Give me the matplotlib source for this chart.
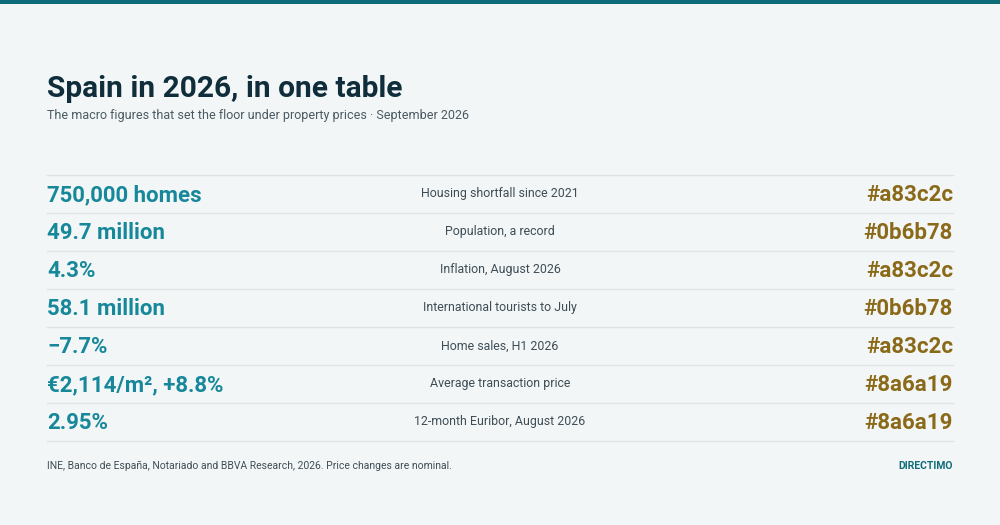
import matplotlib
matplotlib.use('Agg')
import matplotlib.pyplot as plt

plt.rcParams['font.family'] = ['Roboto', 'DejaVu Sans']

# ─── Data ─────────────────────────────────────────────────────────────────────
values = ['750,000 homes', '49.7 million', '4.3%', '58.1 million',
          '\u22127.7%', '\u20ac2,114/m\u00b2, +8.8%', '2.95%']
labels = ['Housing shortfall since 2021', 'Population, a record',
          'Inflation, August 2026', 'International tourists to July',
          'Home sales, H1 2026', 'Average transaction price',
          '12-month Euribor, August 2026']
codes = ['#a83c2c', '#0b6b78', '#a83c2c', '#0b6b78',
         '#a83c2c', '#8a6a19', '#8a6a19']

BG = '#f3f6f7'
TEAL = '#0e6b78'

fig = plt.figure(figsize=(10, 5.25), dpi=100, facecolor=BG)
ax = fig.add_axes([0, 0, 1, 1])
ax.set_facecolor(BG)
ax.set_xlim(0, 1000)
ax.set_ylim(525, 0)
ax.axis('off')

# top bar
ax.axhspan(0, 4, color=TEAL, lw=0)

ax.text(47, 89, 'Spain in 2026, in one table', fontsize=21.5, fontweight='bold',
        color='#0f2d3a', va='center', ha='left')
ax.text(47, 115, 'The macro figures that set the floor under property prices \u00b7 September 2026',
        fontsize=9.0, color='#4a5a62', va='center', ha='left')

top, step = 175, 38
ax.plot([47, 953], [top, top], color='#dde3e6', lw=1)
for i, (v, l, c) in enumerate(zip(values, labels, codes)):
    yc = top + step * i + step / 2 + 1
    ax.text(47, yc, v, fontsize=16, fontweight='bold', color='#16889a',
            va='center', ha='left')
    ax.text(500, yc - 1, l, fontsize=8.9, color='#3f4e56', va='center', ha='center')
    ax.text(953, yc, c, fontsize=16, fontweight='bold', color='#8a6a19',
            va='center', ha='right')
    yb = top + step * (i + 1)
    ax.plot([47, 953], [yb, yb], color='#dde3e6', lw=1)

ax.text(47, 466, 'INE, Banco de Espa\u00f1a, Notariado and BBVA Research, 2026. Price changes are nominal.',
        fontsize=7.5, color='#3f4e56', va='center', ha='left')
ax.text(953, 466, 'DIRECTIMO', fontsize=7.5, fontweight='bold', color=TEAL,
        va='center', ha='right')

fig.savefig('out.png', dpi=100, facecolor=BG)
